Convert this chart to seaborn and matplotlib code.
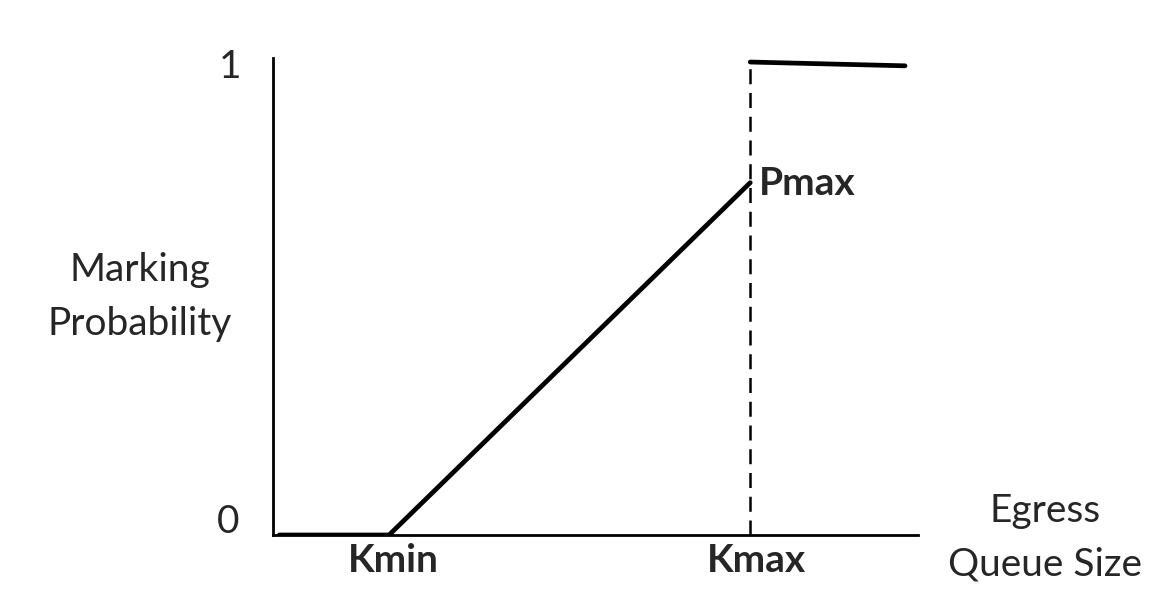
import matplotlib
matplotlib.use("Agg")
import matplotlib.pyplot as plt
import seaborn as sns
import pandas as pd

# ECN marking curve (queue size in arbitrary units, 0-100 across the axis)
ramp_queue = [1, 18, 74]
ramp_prob = [0.0, 0.0, 0.745]
top_queue = [74, 98]
top_prob = [1.0, 0.992]
kmax = 74
kmin_label, kmax_label, pmax_label = "Kmin", "Kmax", "Pmax"
y_ticks = ["0", "1"]

sns.set_style("white")
plt.rcParams["font.family"] = ["Lato", "DejaVu Sans"]

fig = plt.figure(figsize=(11.68, 6.12), dpi=100)
ax = fig.add_axes([0.2337, 0.1258, 0.5522, 0.7794])

ramp = pd.DataFrame({"q": ramp_queue, "p": ramp_prob})
top = pd.DataFrame({"q": top_queue, "p": top_prob})
sns.lineplot(data=ramp, x="q", y="p", color="black", linewidth=3.4, ax=ax)
sns.lineplot(data=top, x="q", y="p", color="black", linewidth=3.4, ax=ax)
ax.plot([kmax, kmax], [0, 1], color="black", linewidth=1.8, linestyle=(0, (6, 3.5)))

ax.set_xlim(0, 100)
ax.set_ylim(0, 1.0085)
ax.set_xticks([])
ax.set_yticks([])
ax.set_xlabel("")
ax.set_ylabel("")
for side in ["top", "right"]:
    ax.spines[side].set_visible(False)
for side in ["left", "bottom"]:
    ax.spines[side].set_color("black")
    ax.spines[side].set_linewidth(2.0)

fs = 28
ax.text(-6.6, 0.99, y_ticks[1], fontsize=fs, ha="center", va="center", clip_on=False)
ax.text(-7.0, 0.027, y_ticks[0], fontsize=fs, ha="center", va="center", clip_on=False)
ax.text(-20.6, 0.503, "Marking\nProbability", fontsize=fs, ha="center", va="center",
        linespacing=1.6, clip_on=False)
ax.text(119.7, -0.006, "Egress\nQueue Size", fontsize=fs, ha="center", va="center",
        linespacing=1.6, clip_on=False)
ax.text(18.6, -0.053, kmin_label, fontsize=fs, fontweight="bold", ha="center", va="center",
        clip_on=False)
ax.text(75.0, -0.053, kmax_label, fontsize=fs, fontweight="bold", ha="center", va="center",
        clip_on=False)
ax.text(75.3, 0.744, pmax_label, fontsize=fs, fontweight="bold", ha="left", va="center",
        clip_on=False)

fig.savefig("out.png", dpi=100)
